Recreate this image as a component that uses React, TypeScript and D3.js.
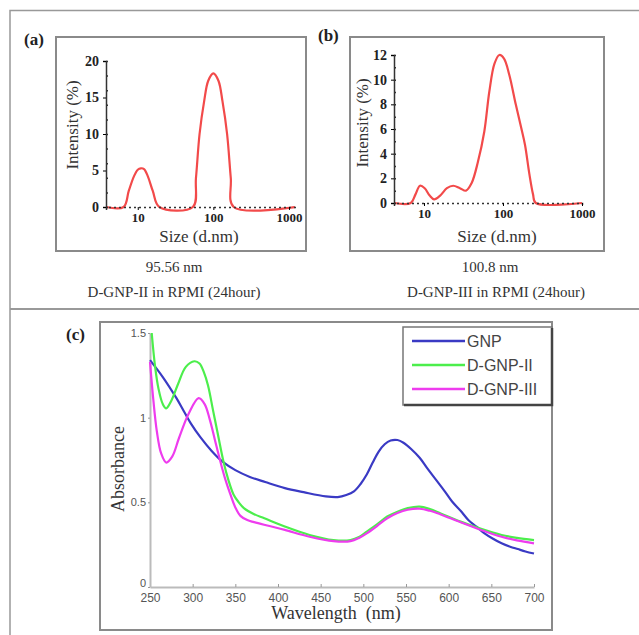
import React, { useEffect, useRef } from 'react';
import * as d3 from 'd3';

// DLS size distributions (Size in d.nm, Intensity in %)
const sizeA = [3.8, 6.5, 7.6, 8.9, 10, 11, 12.1, 13.6, 15.8, 19.3, 53.5, 58.9, 65.7, 75.6, 85.6, 100, 116.8, 132, 152, 170, 186, 1200];
const intensityA = [0, 0, 2.2, 4.2, 5.1, 5.3, 5.2, 4.2, 2.2, 0, 0, 4, 10, 14.5, 17.3, 18.3, 17.3, 14.5, 10, 4, 0, 0];

const sizeB = [4.2, 6.8, 7.8, 8.9, 10.2, 11.8, 13.4, 16, 19.5, 23.4, 28.5, 34, 40, 48, 58, 67, 78, 90, 103, 120, 145, 170, 190, 215, 240, 260, 1000];
const intensityB = [0, 0, 0.7, 1.4, 1.2, 0.6, 0.3, 0.6, 1.2, 1.4, 1.2, 1.0, 1.6, 3.3, 5.8, 9.0, 11.3, 12.0, 11.7, 10.4, 8.0, 6.1, 4.7, 2.4, 0.7, 0, 0];

const ticksA = [0, 5, 10, 15, 20];
const ticksB = [0, 2, 4, 6, 8, 10, 12];
const sizeTicks = [10, 100, 1000];

// UV-vis spectra
const wlGNP = [250, 265, 281, 290, 298, 309, 322, 335, 350, 367, 385, 408, 430, 456, 470, 480, 489, 497, 504, 511, 518, 525, 532, 540, 547, 556, 566, 575, 585, 595, 604, 614, 623, 633, 642, 652, 662, 672, 681, 690, 700];
const absGNP = [1.34, 1.24, 1.115, 1.035, 0.965, 0.885, 0.805, 0.74, 0.69, 0.65, 0.62, 0.584, 0.56, 0.535, 0.531, 0.543, 0.565, 0.61, 0.664, 0.735, 0.8, 0.843, 0.865, 0.868, 0.852, 0.815, 0.763, 0.7, 0.634, 0.568, 0.505, 0.45, 0.396, 0.355, 0.317, 0.285, 0.258, 0.238, 0.224, 0.21, 0.198];

const wlII = [252, 256, 260, 265, 269, 275, 283, 292, 302, 308, 313, 318, 324, 330, 336, 342, 348, 354, 360, 372, 384, 408, 437, 465, 485, 495, 504, 516, 528, 540, 552, 566, 578, 590, 614, 638, 662, 680, 700];
const absII = [1.5, 1.3, 1.17, 1.08, 1.055, 1.1, 1.2, 1.3, 1.333, 1.32, 1.27, 1.19, 1.04, 0.89, 0.743, 0.63, 0.545, 0.5, 0.466, 0.43, 0.406, 0.357, 0.307, 0.277, 0.277, 0.295, 0.327, 0.37, 0.416, 0.445, 0.466, 0.475, 0.46, 0.436, 0.386, 0.343, 0.307, 0.29, 0.277];

const wlIII = [250, 254, 258, 263, 269, 276, 284, 295, 307, 314, 320, 326, 332, 338, 344, 350, 356, 364, 372, 390, 408, 437, 465, 485, 495, 504, 516, 528, 540, 552, 566, 578, 590, 614, 638, 662, 680, 700];
const absIII = [1.33, 1.1, 0.92, 0.79, 0.735, 0.77, 0.88, 1.02, 1.115, 1.08, 0.99, 0.87, 0.75, 0.64, 0.55, 0.47, 0.42, 0.395, 0.383, 0.36, 0.337, 0.297, 0.271, 0.271, 0.29, 0.317, 0.36, 0.406, 0.437, 0.456, 0.462, 0.45, 0.43, 0.382, 0.337, 0.297, 0.275, 0.258];

const seriesC = [
  { name: 'GNP', wl: wlGNP, abs: absGNP, color: '#3a3ac4' },
  { name: 'D-GNP-II', wl: wlII, abs: absII, color: '#4cee4c' },
  { name: 'D-GNP-III', wl: wlIII, abs: absIII, color: '#ee3cee' },
];
const wlTicks = [250, 300, 350, 400, 450, 500, 550, 600, 650, 700];
const absTicks = [0, 0.5, 1, 1.5];

const serif = "'Liberation Serif', 'Times New Roman', Times, serif";
const sans = "'Liberation Sans', Arial, sans-serif";

const App = () => {
  const svgRef = useRef<SVGSVGElement>(null);

  useEffect(() => {
    const svg = d3.select(svgRef.current);
    svg.selectAll('*').remove();

    // outer frame and divider
    svg.append('path').attr('d', 'M10,635 V10.5 H639').attr('fill', 'none').attr('stroke', '#999').attr('stroke-width', 1.5);
    svg.append('line').attr('x1', 10).attr('x2', 639).attr('y1', 309).attr('y2', 309).attr('stroke', '#999').attr('stroke-width', 2);

    // DLS panels
    const dls = (opts: any) => {
      const g = svg.append('g');
      g.append('rect').attr('x', opts.frame[0]).attr('y', 37).attr('width', opts.frame[1] - opts.frame[0]).attr('height', 214)
        .attr('fill', 'none').attr('stroke', '#8a8a8a').attr('stroke-width', 2);
      g.append('text').attr('x', opts.labelX).attr('y', opts.labelY).text(opts.label)
        .style('font-family', serif).attr('font-weight', 'bold').attr('font-size', 17).attr('fill', '#222');

      const x = d3.scaleLog().domain(opts.xDomain).range(opts.xRange);
      const y = d3.scaleLinear().domain([0, opts.yMax]).range(opts.yRange);

      const line = d3.line<number>().x((d, i) => x(opts.sizes[i])).y((d) => y(d)).curve(d3.curveCatmullRom);
      g.append('path').datum(opts.values).attr('d', line).attr('fill', 'none').attr('stroke', '#f24a4a').attr('stroke-width', 2.2);

      // x axis (dotted baseline)
      const xa = g.append('g').attr('transform', `translate(0,${opts.yRange[0]})`)
        .call(d3.axisBottom(x).tickValues(sizeTicks).tickFormat(d3.format('d')).tickSize(3).tickPadding(3));
      xa.select('.domain').attr('stroke', '#333').attr('stroke-width', 1.5).attr('stroke-dasharray', '2,3');
      xa.selectAll('text').style('font-family', serif).attr('font-weight', 'bold').attr('font-size', 13).attr('fill', '#222');

      // y axis
      const ya = g.append('g').attr('transform', `translate(${opts.xRange[0]},0)`)
        .call(d3.axisLeft(y).tickValues(opts.yTicks).tickSize(3).tickPadding(4));
      ya.select('.domain').attr('stroke', '#333').attr('stroke-width', 1.5);
      ya.selectAll('text').style('font-family', serif).attr('font-weight', 'bold').attr('font-size', 14).attr('fill', '#222');
      g.append('g').attr('transform', `translate(${opts.xRange[0]},0)`)
        .call(d3.axisRight(y).ticks(opts.minor).tickSize(2).tickFormat(() => ''))
        .call((s: any) => s.select('.domain').remove())
        .selectAll('line').attr('stroke', '#333').attr('stroke-width', 1.5);

      g.append('text').attr('transform', `translate(${opts.yTitleX},${opts.yTitleY}) rotate(-90)`)
        .attr('text-anchor', 'middle').text('Intensity (%)')
        .style('font-family', serif).attr('font-size', 17).attr('fill', '#333');
      g.append('text').attr('x', opts.sizeX).attr('y', 242).attr('text-anchor', 'middle').text('Size (d.nm)')
        .style('font-family', serif).attr('font-size', 17).attr('fill', '#333');
      g.append('text').attr('x', opts.capX[0]).attr('y', 272).attr('text-anchor', 'middle').text(opts.cap1)
        .style('font-family', serif).attr('font-size', 15).attr('fill', '#333');
      g.append('text').attr('x', opts.capX[1]).attr('y', 297).attr('text-anchor', 'middle').text(opts.cap2)
        .style('font-family', serif).attr('font-size', 15).attr('fill', '#333');
    };

    dls({
      frame: [56, 306], label: '(a)', labelX: 24, labelY: 45,
      xDomain: [3.8, 1240], xRange: [106, 296], yMax: 20, yRange: [207, 61],
      sizes: sizeA, values: intensityA, yTicks: ticksA, minor: 8,
      yTitleX: 78, yTitleY: 125, sizeX: 199, capX: [174, 174],
      cap1: '95.56 nm', cap2: 'D-GNP-II in RPMI (24hour)',
    });
    dls({
      frame: [350, 604], label: '(b)', labelX: 318, labelY: 41,
      xDomain: [4.17, 1000], xRange: [394, 582], yMax: 12, yRange: [203, 55],
      sizes: sizeB, values: intensityB, yTicks: ticksB, minor: 12,
      yTitleX: 368, yTitleY: 123, sizeX: 497, capX: [490, 496],
      cap1: '100.8 nm', cap2: 'D-GNP-III in RPMI (24hour)',
    });

    // UV-vis panel
    const gc = svg.append('g');
    gc.append('rect').attr('x', 100).attr('y', 322).attr('width', 452).attr('height', 308)
      .attr('fill', 'none').attr('stroke', '#8a8a8a').attr('stroke-width', 2);
    gc.append('text').attr('x', 66).attr('y', 340).text('(c)')
      .style('font-family', serif).attr('font-weight', 'bold').attr('font-size', 17).attr('fill', '#222');

    const xc = d3.scaleLinear().domain([250, 700]).range([150, 534]);
    const yc = d3.scaleLinear().domain([0, 1.5]).range([587, 333]);

    const xca = gc.append('g').attr('transform', 'translate(0,587)')
      .call(d3.axisBottom(xc).tickValues(wlTicks).tickSizeInner(-3).tickSizeOuter(0).tickPadding(6));
    xca.select('.domain').attr('stroke', '#bbb').attr('stroke-width', 2);
    xca.selectAll('line').attr('stroke', '#999');
    xca.selectAll('text').style('font-family', sans).attr('font-size', 12).attr('fill', '#555');

    const yca = gc.append('g').attr('transform', 'translate(150,0)')
      .call(d3.axisLeft(yc).tickValues(absTicks).tickFormat((d: any) => String(d)).tickSize(2).tickSizeOuter(0).tickPadding(2));
    yca.select('.domain').attr('stroke', '#bbb').attr('stroke-width', 2);
    yca.selectAll('line').attr('stroke', '#999');
    yca.selectAll('text').style('font-family', sans).attr('font-size', 11).attr('fill', '#555');
    // the "0" label sits just above the "250" label, as in the original
    yca.selectAll('.tick').filter((d: any) => d === 0).select('text').attr('dy', '-0.05em');

    seriesC.forEach((s) => {
      const line = d3.line<number>().x((d) => xc(d)).y((d, i) => yc(s.abs[i])).curve(d3.curveCatmullRom);
      gc.append('path').datum(s.wl).attr('d', line).attr('fill', 'none')
        .attr('stroke', s.color).attr('stroke-width', 2.2);
    });

    gc.append('text').attr('transform', 'translate(124,469) rotate(-90)').attr('text-anchor', 'middle')
      .text('Absorbance').style('font-family', serif).attr('font-size', 18).attr('fill', '#333');
    gc.append('text').attr('x', 336).attr('y', 619).attr('text-anchor', 'middle')
      .text('Wavelength  (nm)').style('font-family', serif).attr('font-size', 18).attr('fill', '#333')
      .style('white-space', 'pre');

    // legend
    const lg = gc.append('g');
    lg.append('rect').attr('x', 403).attr('y', 327).attr('width', 149).attr('height', 78)
      .attr('fill', '#fff').attr('stroke', '#777').attr('stroke-width', 1.5);
    lg.append('path').attr('d', 'M552,328 V405 H404').attr('fill', 'none').attr('stroke', '#444').attr('stroke-width', 2.5);
    seriesC.forEach((s, i) => {
      const yy = 341 + i * 24;
      lg.append('line').attr('x1', 412).attr('x2', 465).attr('y1', yy).attr('y2', yy)
        .attr('stroke', s.color).attr('stroke-width', 2.5);
      lg.append('text').attr('x', 467).attr('y', yy + 6).text(s.name)
        .style('font-family', sans).attr('font-size', 16).attr('fill', '#444');
    });
  }, []);

  return (
    <svg ref={svgRef} width={639} height={635}
      style={{ position: 'absolute', left: 0, top: 0, background: '#fff' }} />
  );
};

export default App;
